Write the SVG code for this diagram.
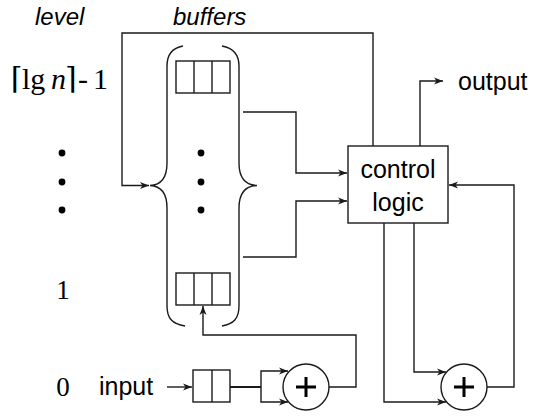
<svg xmlns="http://www.w3.org/2000/svg" width="538" height="417" viewBox="0 0 538 417">
<defs>
<style>
.ln{fill:none;stroke:#1a1a1a;stroke-width:1.4}
.box{fill:#fff;stroke:#1a1a1a;stroke-width:1.4}
.sans{font-family:"Liberation Sans",Arial,sans-serif;fill:#000}
.serif{font-family:"Liberation Serif","DejaVu Serif","Times New Roman",serif;fill:#000}
.dot{fill:#000}
</style>
<marker id="arr" markerWidth="10" markerHeight="8" refX="9" refY="4" orient="auto" markerUnits="userSpaceOnUse">
<path d="M0,0.5 L9,4 L0,7.5 L2.5,4 z" fill="#1a1a1a"/>
</marker>
</defs>
<rect width="538" height="417" fill="#fff"/>

<g id="labels">
<text class="sans" x="35" y="25" font-size="24" font-style="italic">level</text>
<text class="sans" x="173" y="25" font-size="24" font-style="italic">buffers</text>
<text class="serif" y="89" font-size="30"><tspan x="11">⌈</tspan><tspan x="22">lg</tspan><tspan x="51" font-style="italic">n</tspan><tspan x="65">⌉</tspan><tspan x="78">-</tspan><tspan x="93">1</tspan></text>
<text class="serif" x="63" y="299" font-size="27" text-anchor="middle">1</text>
<text class="serif" x="63" y="396" font-size="27" text-anchor="middle">0</text>
<circle class="dot" cx="62" cy="153" r="3.4"/>
<circle class="dot" cx="62" cy="182" r="3.4"/>
<circle class="dot" cx="62" cy="210" r="3.4"/>
</g>

<g id="connectors">
<path class="ln" d="M373,146 V33 H122 V185.5 H149" marker-end="url(#arr)"/>
<path class="ln" d="M243,112 H296 V173 H347" marker-end="url(#arr)"/>
<path class="ln" d="M243,257 H296 V201 H347" marker-end="url(#arr)"/>
<path class="ln" d="M420,146 V81 H443" marker-end="url(#arr)"/>
<path class="ln" d="M487,387 H514 V185 H449" marker-end="url(#arr)"/>
<path class="ln" d="M384,223 V402 H446" marker-end="url(#arr)"/>
<path class="ln" d="M414,223 V372 H446" marker-end="url(#arr)"/>
<path class="ln" d="M329,387 H356 V335 H203 V306" marker-end="url(#arr)"/>
<path class="ln" d="M167,387 H192" marker-end="url(#arr)"/>
<path class="ln" d="M230,387 H261" style="stroke-width:2"/>
<path class="ln" d="M261,387 V371 H288" marker-end="url(#arr)"/>
<path class="ln" d="M261,387 V402 H288" marker-end="url(#arr)"/>
</g>

<g id="buffers">
<path class="ln" d="M183,46 C172,48 167,55 167,66 V163 C167,177 161,185 150,185.5 C161,186 167,194 167,208 V306 C167,318 172,324 185,326"/>
<path class="ln" d="M222,46 C233,48 239,55 239,66 V163 C239,177 245,185 257,185.5 C245,186 239,194 239,208 V306 C239,318 234,324 222,326"/>
<g id="buffer-top">
<rect class="box" x="176" y="61" width="54" height="32"/>
<path class="ln" d="M194,61 V93 M212,61 V93"/>
</g>
<g id="buffer-dots">
<circle class="dot" cx="201" cy="153" r="3.4"/>
<circle class="dot" cx="201" cy="182" r="3.4"/>
<circle class="dot" cx="201" cy="210" r="3.4"/>
</g>
<g id="buffer-1">
<rect class="box" x="176" y="273" width="54" height="32"/>
<path class="ln" d="M194,273 V305 M212,273 V305"/>
</g>
</g>

<g id="input">
<text class="sans" x="99" y="395" font-size="25">input</text>
<rect class="box" x="193" y="370" width="37" height="32"/>
<path class="ln" d="M212,370 V402"/>
</g>

<g id="adder1">
<circle class="box" cx="306" cy="387" r="23"/>
<path d="M306,377 V397 M296,387 H316" stroke="#000" stroke-width="3" fill="none"/>
</g>

<g id="adder2">
<circle class="box" cx="464" cy="387" r="23"/>
<path d="M464,377 V397 M454,387 H474" stroke="#000" stroke-width="3" fill="none"/>
</g>

<g id="control">
<rect class="box" x="348" y="146" width="100" height="77"/>
<text class="sans" x="398" y="178" font-size="25" text-anchor="middle">control</text>
<text class="sans" x="398" y="211" font-size="25" text-anchor="middle">logic</text>
</g>

<g id="output">
<text class="sans" x="458" y="90" font-size="25">output</text>
</g>
</svg>
